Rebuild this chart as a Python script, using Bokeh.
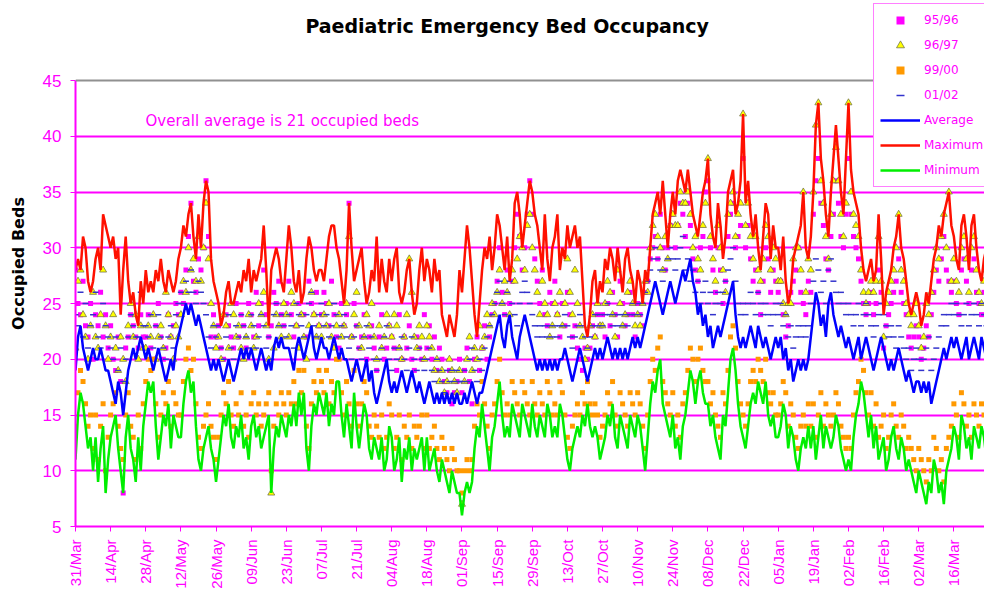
import math
from bokeh.plotting import figure
from bokeh.models import Range1d, FixedTicker, Legend, LegendItem, Label, Span
from bokeh.embed import file_html
from bokeh.resources import INLINE

# ---- data (one value per day, starting 31/Mar) ----
tick_days = [0, 14, 28, 42, 56, 70, 84, 98, 112, 126, 140, 154, 168, 182,
             196, 210, 224, 238, 252, 266, 280, 294, 308, 322, 336, 350]
tick_labels = ["31/Mar", "14/Apr", "28/Apr", "12/May", "26/May", "09/Jun", "23/Jun",
               "07/Jul", "21/Jul", "04/Aug", "18/Aug", "01/Sep", "15/Sep", "29/Sep",
               "13/Oct", "27/Oct", "10/Nov", "24/Nov", "08/Dec", "22/Dec", "05/Jan",
               "19/Jan", "02/Feb", "16/Feb", "02/Mar", "16/Mar"]

s9596 = [
    28,25,24,27,23,22,25,20,24,23,26,22,24,21,
    23,20,19,22,18,8,21,22,24,23,22,21,24,22,
    22,24,21,20,23,25,22,20,21,24,22,23,25,24,
    26,25,28,31,34,27,26,29,28,30,36,31,22,24,
    22,23,21,20,24,23,22,21,25,22,24,23,21,25,
    24,22,26,23,25,28,24,22,23,26,25,27,24,23,
    25,27,24,22,23,25,24,24,22,27,25,24,26,23,
    24,26,25,23,27,24,22,21,25,23,24,34,22,25,
    23,21,22,24,20,22,23,21,19,22,24,20,21,23,
    22,21,19,24,20,22,21,23,20,19,22,21,20,24,
    21,23,20,22,19,21,20,18,17,19,16,17,18,20,
    17,19,21,18,16,20,22,19,21,23,20,22,24,25,
    27,30,26,24,28,25,27,30,33,31,28,30,33,36,
    33,29,27,25,28,24,23,26,25,27,24,22,25,23,
    26,24,22,23,21,20,19,21,20,21,23,22,24,23,
    24,22,25,23,26,24,22,27,25,23,24,26,24,22,
    25,24,23,26,27,29,30,31,29,33,30,28,30,32,
    33,30,32,34,33,31,34,32,29,28,27,30,31,35,
    36,30,28,26,30,28,25,27,31,33,34,30,31,32,
    38,30,32,29,27,28,26,24,27,30,29,26,28,27,
    26,27,24,22,23,26,27,28,30,26,25,24,27,26,
    33,36,38,34,32,29,28,31,33,36,34,31,30,33,
    38,33,31,30,29,27,25,24,25,26,24,25,28,26,
    21,23,24,25,26,27,29,26,25,24,22,21,22,23,
    22,20,21,23,22,24,26,28,27,29,31,28,27,26,
    27,25,24,28,29,27,25,28,29,26,25,24,26,27]

s9697 = [
    21,27,28,24,22,20,23,26,22,21,24,28,23,20,
    22,24,21,19,22,20,18,23,25,22,24,20,23,21,
    21,23,22,24,20,22,23,21,26,24,22,20,23,22,
    24,27,26,30,28,29,27,31,27,30,34,29,25,23,
    21,22,20,24,23,21,25,24,22,23,21,20,22,24,
    23,21,22,25,24,26,23,20,8,21,24,23,22,25,
    24,22,26,25,23,21,24,22,20,23,26,24,22,23,
    22,24,23,25,22,21,23,24,22,23,25,31,22,24,
    26,23,21,22,24,23,25,22,20,23,21,22,24,23,
    22,24,23,21,20,22,24,29,26,22,21,23,22,20,
    23,22,21,19,20,18,19,17,18,20,19,18,17,19,
    7,18,20,22,19,21,20,23,21,22,24,23,25,24,
    26,28,25,27,26,24,28,27,29,31,30,28,32,33,
    30,28,26,24,27,25,24,22,23,25,24,26,23,25,
    29,26,24,28,25,23,22,20,21,23,24,22,25,23,
    23,25,27,26,24,22,28,25,23,24,26,27,25,23,
    24,23,25,27,26,30,32,33,31,30,28,31,29,32,
    33,32,32,35,34,34,35,33,30,31,29,28,32,34,
    38,31,29,27,32,30,28,26,33,34,35,31,33,34,
    42,32,34,31,29,31,28,27,29,32,31,28,30,29,
    27,27,25,24,25,25,29,30,30,28,35,26,29,28,
    35,41,43,36,34,31,29,33,36,39,36,33,31,34,
    43,35,33,32,31,28,26,25,26,27,26,27,31,27,
    22,25,26,27,28,30,33,28,27,25,24,23,24,25,
    23,21,22,25,24,26,28,30,29,31,33,30,35,27,
    29,27,26,30,31,29,26,30,31,28,26,25,27,28]

s9900 = [
    14,17,19,18,16,14,15,12,15,11,14,16,10,13,
    15,16,17,14,12,11,15,17,14,13,11,15,12,16,
    18,20,19,20,16,13,15,17,16,18,14,17,16,15,
    15,18,20,21,19,20,16,13,12,14,15,16,14,13,
    11,13,15,17,16,18,15,14,16,15,17,14,15,13,
    16,17,15,16,14,15,16,17,10,14,16,15,17,16,
    15,17,16,18,16,19,17,19,14,12,16,18,17,19,
    18,17,19,16,18,17,20,20,17,15,18,16,14,19,
    16,14,16,18,17,14,13,15,14,13,15,12,13,16,
    15,12,13,15,11,14,13,15,12,14,13,14,15,12,
    15,12,13,14,12,11,13,12,11,10,12,11,10,10,
    8,10,11,10,11,14,16,15,18,16,14,12,15,16,
    18,20,17,15,16,15,18,17,16,15,18,17,16,15,
    18,16,15,17,16,15,18,17,15,16,15,18,17,15,
    13,12,14,15,16,15,17,16,18,16,15,16,15,13,
    14,15,17,16,18,15,14,17,16,15,14,17,16,15,
    17,16,14,12,15,18,20,19,21,22,18,17,16,15,
    17,14,15,13,16,17,19,21,20,18,20,21,19,18,
    18,16,17,15,14,13,17,16,19,22,23,21,18,16,
    15,14,16,18,19,18,20,19,18,20,17,16,17,15,
    15,16,18,17,14,16,15,13,12,14,15,14,16,14,
    16,13,15,17,14,16,15,14,15,17,16,14,13,12,
    13,12,15,17,18,20,19,17,15,17,14,16,13,14,
    15,12,13,15,16,14,13,15,14,12,13,12,11,10,
    12,11,10,9,11,10,13,12,10,11,9,12,13,14,
    16,15,13,17,16,14,15,13,16,15,14,16,15,13]

s0102 = [
    24,23,26,22,25,21,23,24,26,22,21,25,23,22,
    21,20,22,19,21,18,20,22,24,23,22,22,26,23,
    23,22,24,21,23,24,22,21,20,22,23,21,24,25,
    26,25,27,26,28,26,25,27,26,25,24,22,21,23,
    22,23,21,20,22,24,21,20,23,22,24,23,22,21,
    24,23,21,22,24,23,21,22,20,24,25,23,24,23,
    22,24,23,21,25,24,23,22,24,25,26,23,22,24,
    25,23,24,22,23,25,24,22,23,24,22,21,20,22,
    23,21,20,22,23,21,22,20,19,20,21,22,23,20,
    19,21,20,21,22,20,19,21,22,20,19,21,20,19,
    20,21,19,18,20,19,18,17,19,18,19,18,19,18,
    18,19,18,20,21,19,18,20,19,21,22,23,24,25,
    26,27,25,24,26,27,25,24,23,25,26,27,26,25,
    24,23,22,23,22,23,22,23,22,23,22,23,23,24,
    23,22,21,22,23,24,23,22,21,22,23,24,23,24,
    23,24,25,24,23,24,23,24,23,24,23,24,25,24,
    25,24,25,26,27,28,29,30,29,28,27,28,29,30,
    29,28,29,30,31,28,29,27,28,26,27,25,26,27,
    25,26,24,25,26,25,26,27,28,29,30,27,25,24,
    25,24,25,26,25,24,26,25,24,25,24,23,24,25,
    24,25,23,24,22,23,21,22,23,22,23,22,23,25,
    27,29,28,26,27,25,28,29,27,26,25,26,25,24,
    25,24,23,24,25,23,24,25,24,23,22,23,24,25,
    24,23,22,23,22,21,23,22,21,20,21,19,20,21,
    20,19,20,21,22,19,20,21,22,23,24,23,24,25,
    24,25,24,23,24,25,23,24,25,24,23,25,24,23]

average = [
    19,22,23,21,20,19,20,21,20,20,21,20,19,19,
    18,17,16,18,17,15,17,19,20,21,20,21,22,21,
    20,21,20,19,20,21,20,19,18,19,20,19,21,22,
    23,24,25,24,25,24,23,24,23,22,21,20,19,20,
    19,20,19,18,19,20,19,18,19,20,21,20,21,20,
    21,20,19,20,21,20,19,20,19,21,22,21,22,21,
    21,21,20,19,21,22,21,20,21,22,23,21,20,21,
    22,21,21,20,21,22,21,20,21,20,20,19,18,19,
    20,19,18,19,20,18,19,17,16,17,18,19,20,18,
    17,18,17,18,19,18,17,18,19,18,17,18,17,16,
    17,18,17,16,17,16,17,16,17,16,17,16,17,16,
    16,17,16,17,18,17,16,17,17,18,19,20,21,22,
    23,24,22,21,23,24,22,21,20,22,23,24,23,22,
    21,20,19,20,19,20,19,20,19,20,19,20,20,21,
    20,19,18,19,20,21,20,19,18,19,20,21,20,21,
    20,21,22,21,20,21,20,21,20,21,20,21,22,21,
    22,21,22,23,24,25,26,27,26,25,24,25,26,27,
    26,25,26,27,28,27,28,29,27,26,24,25,23,24,
    22,23,21,22,23,22,23,24,25,26,27,24,22,21,
    22,21,22,23,22,21,23,22,21,22,21,20,21,22,
    21,22,20,21,19,20,18,19,20,19,20,19,20,22,
    24,26,25,23,24,22,25,26,24,23,22,23,22,21,
    22,21,20,21,22,20,21,22,21,20,19,20,21,22,
    21,20,19,20,19,20,21,20,19,18,19,18,17,18,
    18,17,18,17,18,16,17,18,19,20,21,20,21,22,
    21,22,21,20,21,22,20,21,22,21,20,22,21,20]

maximum = [
    28,29,28,31,30,27,26,27,29,30,28,33,32,31,
    30,31,29,30,24,28,31,27,25,26,24,23,27,25,
    28,26,27,26,28,27,29,27,26,28,27,26,27,29,
    30,32,31,33,34,31,29,33,30,34,36,35,29,27,
    26,25,23,24,26,27,25,25,26,27,26,28,27,29,
    26,28,27,28,29,32,28,23,28,29,30,29,27,26,
    29,32,30,27,26,28,25,26,29,31,30,28,27,28,
    28,27,29,31,32,32,30,29,27,25,28,34,30,27,
    28,29,30,27,25,26,28,27,31,26,29,27,26,29,
    27,29,30,26,25,26,28,29,26,24,25,28,30,27,
    29,28,26,29,27,28,24,23,22,24,23,22,24,28,
    26,29,32,30,27,24,22,25,28,30,29,31,28,30,
    33,32,30,28,31,27,29,34,35,33,30,32,34,36,
    35,33,32,30,28,33,29,27,30,31,33,28,30,29,
    32,30,31,32,30,31,27,23,22,24,27,28,25,27,
    26,29,28,30,29,27,30,28,26,29,30,28,27,25,
    28,27,25,28,27,30,33,34,35,33,36,33,30,33,
    35,33,36,37,36,35,37,35,33,32,31,33,35,36,
    38,33,31,30,34,32,29,31,35,36,37,33,34,36,
    42,34,36,33,31,33,30,28,31,34,33,29,32,30,
    30,28,31,27,25,26,29,30,31,32,35,30,29,31,
    35,41,43,38,36,33,31,35,38,41,38,35,33,38,
    43,37,35,34,33,30,28,27,28,29,27,28,33,29,
    24,26,27,28,30,31,33,30,29,27,25,24,25,26,
    25,23,24,26,25,27,29,30,32,31,33,34,35,32,
    31,29,28,32,33,31,28,32,33,30,28,27,29,30]

minimum = [
    11,15,17,16,14,12,13,10,13,9,12,14,8,11,
    13,14,15,12,10,8,13,15,12,11,9,13,10,14,
    16,18,17,18,14,11,13,15,14,16,12,15,14,13,
    13,16,18,19,17,18,14,11,10,12,13,14,12,11,
    9,11,13,15,14,16,13,12,14,13,15,12,13,11,
    14,15,13,14,12,13,14,15,8,12,14,13,15,14,
    13,15,14,16,14,17,15,17,12,10,14,16,15,17,
    16,15,17,14,16,15,18,18,15,13,16,14,12,17,
    14,12,14,16,15,12,11,13,12,11,13,10,11,14,
    13,10,11,13,9,12,11,13,10,12,11,12,13,10,
    13,10,11,12,10,9,11,10,9,8,10,9,8,8,
    6,8,9,8,9,12,14,13,16,14,12,10,13,14,
    16,18,15,13,14,13,16,15,14,13,16,15,14,13,
    16,14,13,15,14,13,16,15,13,14,13,16,15,13,
    11,10,12,13,14,13,15,14,16,14,13,14,13,11,
    12,13,15,14,16,13,12,15,14,13,12,15,14,13,
    15,14,12,10,13,16,18,17,19,20,16,15,14,13,
    15,12,13,11,14,15,17,19,18,16,18,19,17,16,
    16,14,15,13,12,11,15,14,17,20,21,19,16,14,
    13,12,14,16,17,16,18,17,16,18,15,14,15,13,
    13,14,16,15,12,14,13,11,10,12,13,12,14,12,
    14,11,13,15,12,14,13,12,13,15,14,12,11,10,
    11,10,13,15,16,18,17,15,13,15,12,14,11,12,
    13,10,11,13,14,12,11,13,12,10,11,10,9,8,
    10,9,8,7,9,8,11,10,8,9,7,10,11,12,
    14,13,11,15,14,12,13,11,14,13,12,14,13,11]

y_ticks = [5, 10, 15, 20, 25, 30, 35, 40, 45]
grid_ticks = [10, 15, 20, 25, 30, 35, 40]

MAG = "#FF00FF"

# frame reaches the top of the canvas so that the title and legend can sit above 45
Y_TOP = 45 + 80 / 11.15
p = figure(width=984, height=594, x_range=Range1d(0, 362.2), y_range=Range1d(5, Y_TOP),
           output_backend="svg", toolbar_location=None,
           min_border_left=75, min_border_right=0, min_border_top=0, min_border_bottom=68)
p.background_fill_color = "white"
p.border_fill_color = "white"
p.outline_line_color = None

# axes
p.yaxis.ticker = FixedTicker(ticks=y_ticks)
p.yaxis.bounds = (5, 45)
p.xaxis.ticker = FixedTicker(ticks=tick_days)
p.xaxis.major_label_overrides = {d: l for d, l in zip(tick_days, tick_labels)}
p.xaxis.major_label_orientation = math.pi / 2
for ax in (p.xaxis[0], p.yaxis[0]):
    ax.axis_line_color = MAG
    ax.axis_line_width = 2
    ax.major_tick_line_color = MAG
    ax.major_tick_out = 5
    ax.major_tick_in = 0
    ax.minor_tick_line_color = None
    ax.major_label_text_color = MAG
    ax.major_label_text_font = "Liberation Sans"
p.yaxis.major_label_text_font_size = "17px"
p.yaxis.major_label_standoff = 9
p.xaxis.major_label_text_font_size = "15px"
p.xaxis.major_label_standoff = 8
p.yaxis.axis_label = "Occupied Beds"
p.yaxis.axis_label_text_font = "DejaVu Sans"
p.yaxis.axis_label_text_font_style = "bold"
p.yaxis.axis_label_text_font_size = "16px"
p.yaxis.axis_label_text_color = "black"
p.yaxis.axis_label_standoff = 12

p.xgrid.grid_line_color = None
p.ygrid.ticker = FixedTicker(ticks=grid_ticks)
p.ygrid.grid_line_color = MAG
p.ygrid.grid_line_width = 2
p.add_layout(Span(location=45, dimension="width", line_color="#909090", line_width=2))

# series
def xs(vals):
    return list(range(len(vals)))

r95 = p.scatter(xs(s9596), s9596, marker="square", size=5, fill_color=MAG, line_color=None)
r96 = p.scatter(xs(s9697), s9697, marker="triangle", size=7, fill_color="#FFFF00",
                line_color="#666640", line_width=0.7)
r99 = p.scatter(xs(s9900), s9900, marker="square", size=5, fill_color="#FF9900", line_color=None)
r01 = p.scatter(xs(s0102), s0102, marker="dash", size=6, line_color="#3333CC", line_width=1.5)
ravg = p.line(xs(average), average, line_color="#0000FF", line_width=2.5)
rmax = p.line(xs(maximum), maximum, line_color="#FF1000", line_width=2.5)
rmin = p.line(xs(minimum), minimum, line_color="#00EE00", line_width=2.5)

legend = Legend(items=[
    LegendItem(label="95/96", renderers=[r95]),
    LegendItem(label="96/97", renderers=[r96]),
    LegendItem(label="99/00", renderers=[r99]),
    LegendItem(label="01/02", renderers=[r01]),
    LegendItem(label="Average", renderers=[ravg]),
    LegendItem(label="Maximum", renderers=[rmax]),
    LegendItem(label="Minimum", renderers=[rmin]),
], location=(798, 339))
legend.border_line_color = MAG
legend.border_line_width = 1.5
legend.background_fill_color = "white"
legend.background_fill_alpha = 1
legend.label_text_color = MAG
legend.label_text_font = "DejaVu Sans"
legend.label_text_font_size = "12px"
legend.glyph_width = 40
legend.glyph_height = 20
legend.label_height = 20
legend.label_standoff = 4
legend.spacing = 5
legend.padding = 6
legend.margin = 0
p.add_layout(legend)

note = Label(x=27.9, y=41.4, text="Overall average is 21 occupied beds",
             text_color=MAG, text_font="DejaVu Sans", text_font_size="15px",
             text_baseline="middle", text_align="left")
p.add_layout(note)

title = Label(x=91.6, y=49.85, text="Paediatric Emergency Bed Occupancy",
              text_color="black", text_font="DejaVu Sans", text_font_style="bold",
              text_font_size="19px", text_baseline="middle", text_align="left")
p.add_layout(title)

open("out.html", "w").write(file_html(p, INLINE))
